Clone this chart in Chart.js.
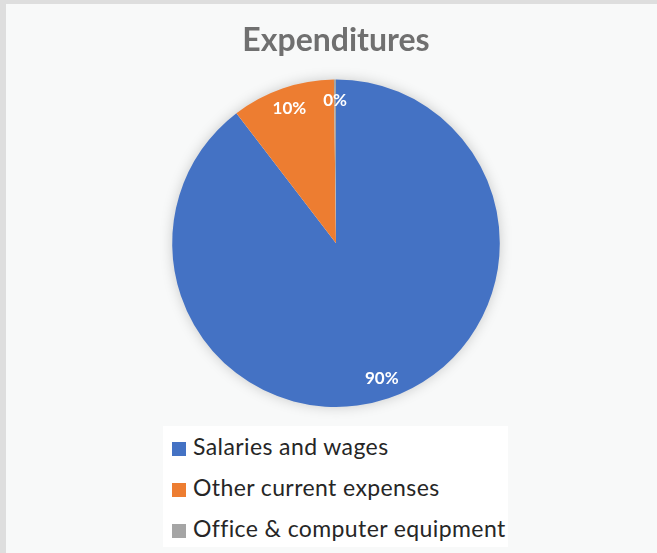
<!DOCTYPE html>
<html>
<head>
<meta charset="utf-8">
<script src="https://cdn.jsdelivr.net/npm/chart.js@4.4.1/dist/chart.umd.min.js"></script>
<style>
  html, body { margin: 0; padding: 0; }
  body { width: 657px; height: 553px; background: #dedede; overflow: hidden; position: relative; }
  .frame {
    position: absolute; left: 6px; top: 4px; width: 660px; height: 560px;
    background: #f8f9f9;
  }
  #pieChart { position: absolute; left: 0; top: 0; }
  .legend {
    position: absolute; left: 163px; top: 426px; width: 345px; height: 121px;
    background: #ffffff; font-family: Lato, "Open Sans", sans-serif; font-size: 23px; letter-spacing: 0.4px; color: #262626;
    list-style: none; margin: 0; padding: 0;
  }
  .legend li { position: absolute; left: 9px; height: 26px; line-height: 26px; white-space: nowrap; }
  .legend span.box { display: inline-block; width: 14px; height: 14px; margin-right: 7px; vertical-align: -1px; }
</style>
</head>
<body>
<div class="frame"></div>
<canvas id="pieChart" width="657" height="553"></canvas>
<ul class="legend" id="legend"></ul>
<script>
// Dữ liệu biểu đồ
const categories = ['Salaries and wages', 'Other current expenses', 'Office & computer equipment'];
const values = [89.6, 10.2, 0.2];
const colors = ['#4472C4', '#ED7D31', '#A5A5A5'];
const chartTitle = 'Expenditures';

// Nhãn phần trăm trên từng lát
const pctLabels = {
  id: 'pctLabels',
  afterDatasetsDraw(chart) {
    const ctx = chart.ctx;
    const meta = chart.getDatasetMeta(0);
    const total = values.reduce((a, b) => a + b, 0);
    ctx.save();
    ctx.fillStyle = '#ffffff';
    ctx.font = 'bold 17px Lato, "Open Sans", sans-serif';
    ctx.textAlign = 'center';
    ctx.textBaseline = 'middle';
    meta.data.forEach((arc, i) => {
      const mid = (arc.startAngle + arc.endAngle) / 2;
      const r = arc.outerRadius * 0.87;
      const x = arc.x + Math.cos(mid) * r;
      const y = arc.y + Math.sin(mid) * r;
      ctx.fillText(Math.round(values[i] / total * 100) + '%', x, y);
    });
    ctx.restore();
  }
};

// Bóng mờ quanh hình tròn
const pieShadow = {
  id: 'pieShadow',
  beforeDatasetsDraw(chart) {
    const arc = chart.getDatasetMeta(0).data[0];
    if (!arc) return;
    const ctx = chart.ctx;
    ctx.save();
    ctx.shadowColor = 'rgba(0, 0, 0, 0.22)';
    ctx.shadowBlur = 14;
    ctx.fillStyle = '#ffffff';
    ctx.beginPath();
    ctx.arc(arc.x, arc.y, arc.outerRadius - 1, 0, Math.PI * 2);
    ctx.fill();
    ctx.restore();
  }
};

function renderLegend() {
  const ul = document.getElementById('legend');
  categories.forEach((c, i) => {
    const li = document.createElement('li');
    li.style.top = (7 + i * 41) + 'px';
    li.innerHTML = `<span class="box" style="background:${colors[i]}"></span>${c}`;
    ul.appendChild(li);
  });
}

function initApp() {
  const ctx = document.getElementById('pieChart').getContext('2d');
  new Chart(ctx, {
    type: 'pie',
    data: {
      labels: categories,
      datasets: [{
        data: values,
        backgroundColor: colors,
        borderWidth: 0
      }]
    },
    options: {
      responsive: false,
      animation: false,
      layout: { padding: { left: 172, right: 157, top: 0, bottom: 146 } },
      plugins: {
        legend: { display: false },
        tooltip: { enabled: false },
        title: {
          display: true,
          text: chartTitle,
          color: '#707070',
          font: { family: 'Lato, "Open Sans", sans-serif', size: 32, weight: 'bold', lineHeight: 1.2 },
          padding: { top: 21, bottom: 20 }
        }
      }
    },
    plugins: [pieShadow, pctLabels]
  });
  renderLegend();
}

if (document.readyState === 'loading') {
  document.addEventListener('DOMContentLoaded', initApp);
} else {
  initApp();
}
</script>
</body>
</html>
